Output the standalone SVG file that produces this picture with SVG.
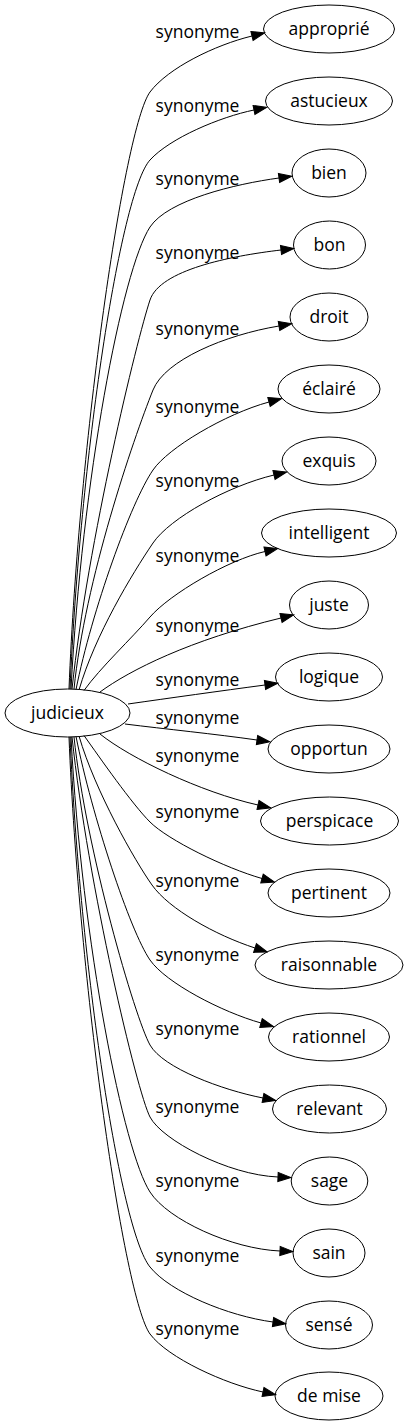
<svg xmlns="http://www.w3.org/2000/svg" width="409" height="1427" viewBox="0 0 409 1427">
<style>
.n ellipse{fill:none;stroke:#000;stroke-width:1}
.n text,.lbl text{font-family:"Open Sans","Liberation Sans",sans-serif;font-size:17.5px;fill:#000;text-anchor:middle}
.e path{fill:none;stroke:#000;stroke-width:1;marker-end:url(#ah)}
</style>
<defs>
<marker id="ah" markerUnits="userSpaceOnUse" markerWidth="15" markerHeight="12" viewBox="-1 -6 15 12" refX="0" refY="0" orient="auto">
<path d="M0,-4.6 L13,0 L0,4.6 z" fill="#000" stroke="#000" stroke-width="1"/>
</marker>
</defs>
<rect width="409" height="1427" fill="#fff"/>
<g id="edges" class="e">
<path d="M69,689 C79,440 124,128 150,92 C168,68 215,45 252,36"/>
<path d="M70,689 C80,460 120,193 150,160 C170,138 220,117 254,110"/>
<path d="M71,689 C82,480 122,270 150,227 C168,200 235,184 279,178"/>
<path d="M72,689 C88,540 137,339 150,300 C160,270 230,256 281,250"/>
<path d="M74,689 C85,580 133,440 153,390 C165,360 225,335 279,326"/>
<path d="M76,689.5 C92,610 131,502 153,470 C168,448 225,414 269,402"/>
<path d="M79,690 C95,635 132,574 153,543 C170,518 228,486 274,475"/>
<path d="M84,690.5 C100,668 132,638 150,617 C170,594 228,560 265,551.5"/>
<path d="M100,692 C130,670 190,640 281,618"/>
<path d="M128,704 C170,698 220,691 265,685"/>
<path d="M125,724 C165,729 215,734 257,740"/>
<path d="M100,734 C130,758 200,792 258,805"/>
<path d="M84,735.5 C100,758 132,804 150,822 C168,840 225,868 262,878.5"/>
<path d="M79,736 C95,791 135,861 152,885 C169,909 215,935 255,948"/>
<path d="M76,736.5 C92,816 130,931 150,960 C166,983 222,1012 261,1023"/>
<path d="M74,737 C86,850 135,1018 150,1045 C163,1068 222,1090 263,1098"/>
<path d="M72,737 C88,886 137,1092 150,1117 C162,1140 228,1175 278,1177"/>
<path d="M71,737 C82,946 124,1152 150,1192 C168,1220 232,1249 280,1251"/>
<path d="M70,737 C80,966 120,1230 150,1267 C170,1292 228,1316 273,1322"/>
<path d="M69,737 C79,986 124,1298 150,1334 C168,1358 225,1384 263,1392"/>
</g>
<g id="labels" class="lbl">
<text x="197.5" y="38">synonyme</text>
<text x="197.5" y="111.7">synonyme</text>
<text x="197.5" y="185">synonyme</text>
<text x="197.5" y="259">synonyme</text>
<text x="197.5" y="335">synonyme</text>
<text x="197.5" y="413">synonyme</text>
<text x="197.5" y="487">synonyme</text>
<text x="197.5" y="561.7">synonyme</text>
<text x="197.5" y="631.7">synonyme</text>
<text x="197.5" y="686">synonyme</text>
<text x="197.5" y="724">synonyme</text>
<text x="197.5" y="761.7">synonyme</text>
<text x="197.5" y="818.3">synonyme</text>
<text x="197.5" y="887.3">synonyme</text>
<text x="197.5" y="960.7">synonyme</text>
<text x="197.5" y="1035">synonyme</text>
<text x="197.5" y="1112.7">synonyme</text>
<text x="197.5" y="1186.7">synonyme</text>
<text x="197.5" y="1261.7">synonyme</text>
<text x="197.5" y="1335">synonyme</text>
</g>
<g id="judicieux" class="n"><ellipse cx="67.5" cy="713" rx="62.5" ry="24"/><text x="67.5" y="719">judicieux</text></g>
<g id="approprie" class="n"><ellipse cx="329" cy="29" rx="65.5" ry="24"/><text x="329" y="35">approprié</text></g>
<g id="astucieux" class="n"><ellipse cx="329" cy="101" rx="63.5" ry="24"/><text x="329" y="107">astucieux</text></g>
<g id="bien" class="n"><ellipse cx="329" cy="173" rx="37" ry="24"/><text x="329" y="179">bien</text></g>
<g id="bon" class="n"><ellipse cx="329.5" cy="245" rx="36" ry="24"/><text x="329.5" y="251">bon</text></g>
<g id="droit" class="n"><ellipse cx="329" cy="317" rx="39" ry="24"/><text x="329" y="323">droit</text></g>
<g id="eclaire" class="n"><ellipse cx="329" cy="389" rx="51" ry="24"/><text x="329" y="395">éclairé</text></g>
<g id="exquis" class="n"><ellipse cx="329" cy="461" rx="47" ry="24"/><text x="329" y="467">exquis</text></g>
<g id="intelligent" class="n"><ellipse cx="329" cy="533" rx="67.5" ry="24"/><text x="329" y="539">intelligent</text></g>
<g id="juste" class="n"><ellipse cx="329" cy="605" rx="39.5" ry="24"/><text x="329" y="611">juste</text></g>
<g id="logique" class="n"><ellipse cx="329" cy="677" rx="53.5" ry="24"/><text x="329" y="683">logique</text></g>
<g id="opportun" class="n"><ellipse cx="329" cy="749" rx="61" ry="24"/><text x="329" y="755">opportun</text></g>
<g id="perspicace" class="n"><ellipse cx="329.5" cy="821" rx="69" ry="24"/><text x="329.5" y="827">perspicace</text></g>
<g id="pertinent" class="n"><ellipse cx="329" cy="893" rx="61" ry="24"/><text x="329" y="899">pertinent</text></g>
<g id="raisonnable" class="n"><ellipse cx="329" cy="965" rx="74" ry="24"/><text x="329" y="971">raisonnable</text></g>
<g id="rationnel" class="n"><ellipse cx="329" cy="1037" rx="60.5" ry="24"/><text x="329" y="1043">rationnel</text></g>
<g id="relevant" class="n"><ellipse cx="329.5" cy="1109" rx="57" ry="24"/><text x="329.5" y="1115">relevant</text></g>
<g id="sage" class="n"><ellipse cx="329.5" cy="1181" rx="38.3" ry="24"/><text x="329.5" y="1187">sage</text></g>
<g id="sain" class="n"><ellipse cx="329" cy="1253" rx="36" ry="24"/><text x="329" y="1259">sain</text></g>
<g id="sense" class="n"><ellipse cx="329" cy="1325" rx="43.5" ry="24"/><text x="329" y="1331">sensé</text></g>
<g id="de_mise" class="n"><ellipse cx="329" cy="1396" rx="54" ry="24"/><text x="329" y="1402">de mise</text></g>
</svg>
